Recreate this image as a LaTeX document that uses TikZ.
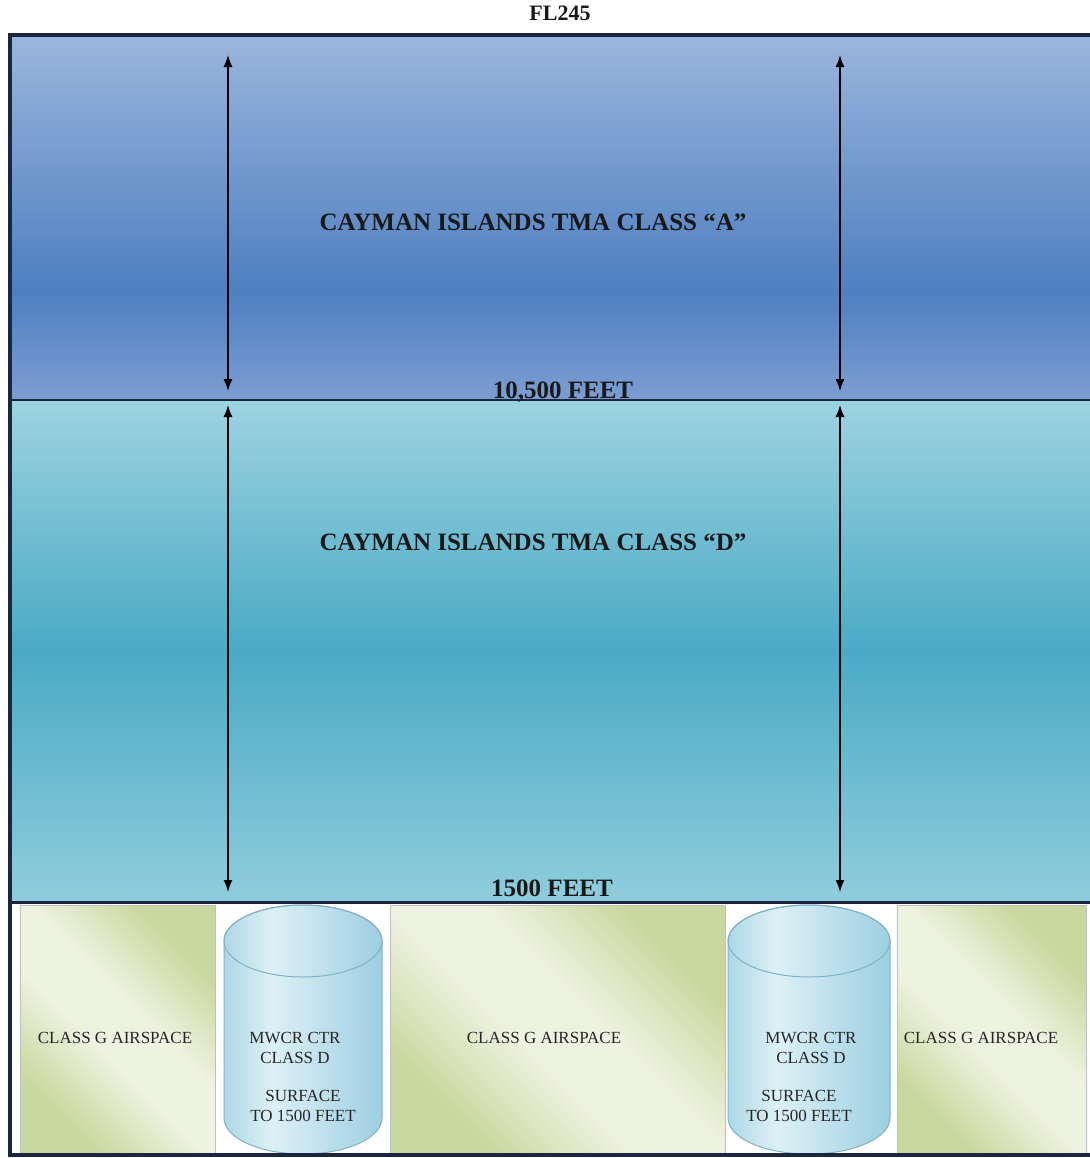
\documentclass[tikz,border=0pt]{standalone}
\usepackage{fontspec}
\setmainfont{Liberation Serif}
\usetikzlibrary{arrows.meta}

\definecolor{frameNavy}{HTML}{1C2640}
\definecolor{aTop}{HTML}{9AB6DD}
\definecolor{aMid}{HTML}{4E7FC0}
\definecolor{aBot}{HTML}{7C9DD2}
\definecolor{dTop}{HTML}{9DD3E0}
\definecolor{dMid}{HTML}{4AAAC5}
\definecolor{dBot}{HTML}{90CDDC}
\definecolor{gGreen}{HTML}{C9D89E}
\definecolor{gCream}{HTML}{EEF2E0}
\definecolor{cylA}{HTML}{ADD8E6}
\definecolor{cylB}{HTML}{DDF0F6}
\definecolor{cylC}{HTML}{9DCFE1}
\definecolor{cylEdge}{HTML}{7FB2C5}

\pgfdeclareverticalshading{bandA}{100bp}{color(0bp)=(aBot); color(25bp)=(aBot); color(40bp)=(aMid); color(75bp)=(aTop); color(100bp)=(aTop)}
\pgfdeclareverticalshading{bandD}{100bp}{color(0bp)=(dBot); color(25bp)=(dBot); color(50bp)=(dMid); color(75bp)=(dTop); color(100bp)=(dTop)}
\pgfdeclarehorizontalshading{fieldG}{100bp}{color(0bp)=(gGreen); color(27bp)=(gGreen); color(44bp)=(gCream); color(56bp)=(gCream); color(73bp)=(gGreen); color(100bp)=(gGreen)}
\pgfdeclarehorizontalshading{cylBody}{100bp}{color(0bp)=(cylA); color(25bp)=(cylA); color(40bp)=(cylB); color(75bp)=(cylC); color(100bp)=(cylC)}

\begin{document}
\begin{tikzpicture}
	[x=0.5pt, y=-0.5pt,
	band label/.style={font=\fontsize{12.5}{14}\selectfont\bfseries, text=black!90},
	ground label/.style={font=\fontsize{8.5}{10}\selectfont, text=black!85, align=center},
	altitude arrow/.style={{Latex[length=6pt,width=4.5pt]}-{Latex[length=6pt,width=4.5pt]}, line width=0.7pt},
	field box/.style={shading=fieldG, shading angle=45, draw=black!25, line width=0.3pt}]
	\useasboundingbox (0,0) rectangle (1089,1158);

	%airspace bands
	\shade[shading=bandA] (10,35) rectangle (1095,400);
	\shade[shading=bandD] (10,400) rectangle (1095,902);
	\fill[white] (10,902) rectangle (1095,1156);

	%class G boxes
	\foreach \xa/\xb in {20/215, 390/725, 897/1086}{
		\shade[field box] (\xa,905) rectangle (\xb,1153);
	}

	%control zones
	\foreach \cx/\rx in {303/79, 809/81}{
		\shade[shading=cylBody] (\cx-\rx,941) -- (\cx-\rx,1118) arc[start angle=180, end angle=0, x radius=\rx, y radius=36] -- (\cx+\rx,941) arc[start angle=0, end angle=-180, x radius=\rx, y radius=36] -- cycle;
		\draw[cylEdge, line width=0.5pt] (\cx-\rx,941) -- (\cx-\rx,1118) arc[start angle=180, end angle=0, x radius=\rx, y radius=36] -- (\cx+\rx,941) arc[start angle=0, end angle=-180, x radius=\rx, y radius=36] -- cycle;
		\draw[cylEdge, line width=0.5pt] (\cx,941) ellipse[x radius=\rx, y radius=36];
	}

	%frame and levels
	\draw[frameNavy, line width=1pt] (10,400) -- (1095,400);
	\draw[frameNavy, line width=1.5pt] (10,902) -- (1095,902);
	\draw[frameNavy, line width=2pt] (1095,35) -- (10,35) -- (10,1155) -- (1095,1155);

	%altitude arrows
	\foreach \n/\x in {l/228, r/840}{
		\coordinate (topA\n) at (\x,55);
		\coordinate (botA\n) at (\x,391);
		\coordinate (topD\n) at (\x,405);
		\coordinate (botD\n) at (\x,892);
		\draw[altitude arrow] (topA\n) -- (botA\n);
		\draw[altitude arrow] (topD\n) -- (botD\n);
	}

	%labels
	\node[band label, font=\fontsize{11}{13}\selectfont\bfseries] (fl) at (560,13) {FL245};
	\node[band label] (classA) at (533,222) {CAYMAN ISLANDS TMA CLASS “A”};
	\node[band label] (classD) at (533,542) {CAYMAN ISLANDS TMA CLASS “D”};
	\node[band label, anchor=base, inner sep=0pt] (lvlA) at (563,398) {10,500 FEET};
	\node[band label, anchor=base, inner sep=0pt] (lvlD) at (552,896) {1500 FEET};

	\node[ground label] (fieldL) at (115,1038) {CLASS G AIRSPACE};
	\node[ground label] (fieldM) at (544,1038) {CLASS G AIRSPACE};
	\node[ground label] (fieldR) at (981,1038) {CLASS G AIRSPACE};

	\node[ground label] (ctrL) at (295,1048) {MWCR CTR\\CLASS D};
	\node[ground label] (ctrLalt) at (303,1106) {SURFACE\\TO 1500 FEET};
	\node[ground label] (ctrR) at (811,1048) {MWCR CTR\\CLASS D};
	\node[ground label] (ctrRalt) at (799,1106) {SURFACE\\TO 1500 FEET};
\end{tikzpicture}
\end{document}
